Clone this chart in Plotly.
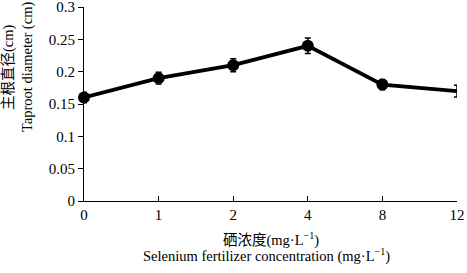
import plotly.graph_objects as go

categories = ["0", "1", "2", "4", "8", "12"]
diameter = [0.16, 0.19, 0.21, 0.24, 0.18, 0.17]
errors = [0.008, 0.009, 0.010, 0.012, 0.008, 0.009]
marker_sizes = [12, 12, 12, 12, 12, 0]
ytick_vals = [0, 0.05, 0.1, 0.15, 0.2, 0.25, 0.3]
ytick_text = ["0", "0.05", "0.1", "0.15", "0.2", "0.25", "0.3"]

xpos = list(range(len(categories)))

fig = go.Figure()
fig.add_trace(go.Scatter(
    x=xpos, y=diameter, mode="lines+markers",
    line=dict(color="black", width=3.8),
    marker=dict(color="black", size=marker_sizes, opacity=1, line=dict(width=0)),
    error_y=dict(type="data", array=errors, color="black", thickness=1.5, width=3),
    cliponaxis=False, showlegend=False, hoverinfo="skip",
))

font = "Liberation Serif, 'Noto Sans CJK SC', serif"
fig.update_layout(
    width=467, height=273,
    margin=dict(l=84, r=10, t=7, b=72),
    paper_bgcolor="white", plot_bgcolor="white",
    font=dict(family=font, size=15, color="black"),
    xaxis=dict(
        range=[0, 5], tickvals=xpos, ticktext=categories,
        showline=True, linecolor="black", linewidth=1,
        ticks="inside", ticklen=5, tickcolor="black",
        showgrid=False, zeroline=False, automargin=False,
        ticklabeloverflow="allow",
    ),
    yaxis=dict(
        range=[0, 0.3], tickvals=ytick_vals, ticktext=ytick_text,
        showline=True, linecolor="black", linewidth=1,
        ticks="outside", ticklen=5, tickcolor="black",
        showgrid=False, zeroline=False, automargin=False,
        ticklabeloverflow="allow",
    ),
)

titles = [
    dict(text="硒浓度(mg·L<sup>−1</sup>)", x=0.5, y=-0.196, textangle=0),
    dict(text="Selenium fertilizer concentration (mg·L<sup>−1</sup>)", x=0.49, y=-0.281, textangle=0),
    dict(text="主根直径(cm)", x=-0.201, y=0.691, textangle=-90),
    dict(text="Taproot diameter (cm)", x=-0.150, y=0.691, textangle=-90),
]
for t in titles:
    fig.add_annotation(
        text=t["text"], x=t["x"], y=t["y"], xref="paper", yref="paper",
        xanchor="center", yanchor="middle", textangle=t["textangle"],
        showarrow=False, font=dict(family=font, size=14.5, color="black"),
    )

fig.write_html("out.html", config={"displayModeBar": False},
               post_script="document.body.style.margin='0';")
